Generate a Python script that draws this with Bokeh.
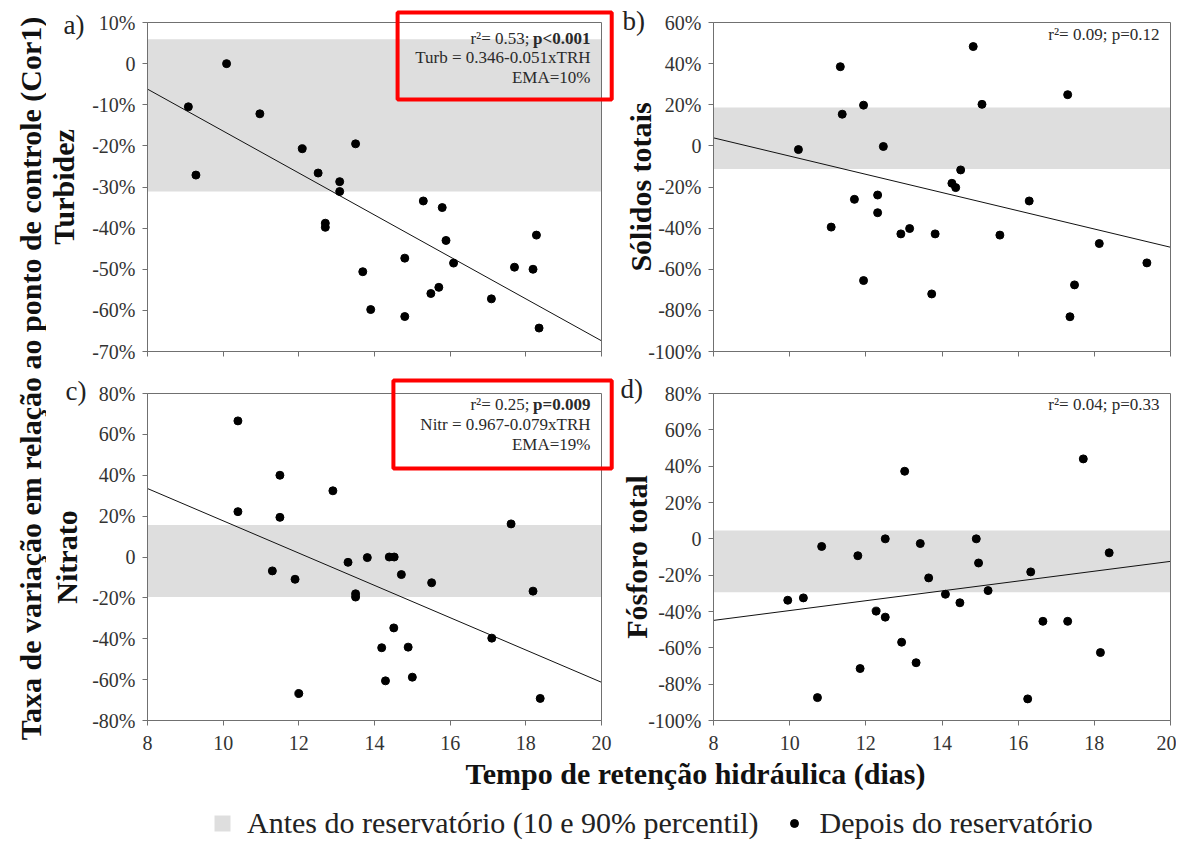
import math
from bokeh.plotting import figure
from bokeh.models import (Range1d, FixedTicker, PrintfTickFormatter, Label, BoxAnnotation,
                          Legend, LegendItem, LinearAxis)
from bokeh.layouts import row, column
from bokeh.embed import file_html
from bokeh.resources import INLINE

FONT = "Liberation Serif"
BAND = "#dedede"
TXT = "#2a2a2a"
AX = "#707070"

# ---------------- data (percent change vs control point) ----------------
x_ticks = [8, 10, 12, 14, 16, 18, 20]
x_lim = [8, 20]

# a) Turbidez
turb_x = [9.08, 9.28, 10.09, 10.97, 12.09, 12.51, 13.08, 13.08, 12.70, 12.70, 13.50, 13.69, 13.90,
          14.80, 14.80, 15.29, 15.49, 15.70, 15.79, 15.89, 16.09, 17.09, 17.70, 18.19, 18.28, 18.35]
turb_y = [-10.5, -27.1, 0.0, -12.2, -20.7, -26.6, -28.7, -31.1, -38.8, -39.8, -19.5, -50.6, -59.8,
          -47.3, -61.5, -33.4, -55.9, -54.4, -35.0, -43.0, -48.5, -57.2, -49.5, -50.0, -41.7, -64.3]
turb_band = [-31.1, 5.9]
turb_fit = [-6.2, -67.4]          # Turb = 0.346 - 0.051 x TRH
turb_yticks = [-70, -60, -50, -40, -30, -20, -10, 0, 10]

# b) Solidos totais
sol_x = [10.23, 11.09, 11.33, 11.38, 11.70, 11.94, 11.94, 12.31, 12.31, 12.46, 12.92, 13.15, 13.73,
         13.82, 14.26, 14.36, 14.49, 14.82, 15.05, 15.52, 16.29, 17.30, 17.36, 17.48, 18.13, 19.38]
sol_y = [-1.8, -39.5, 38.5, 15.4, -26.0, 19.8, -65.5, -23.9, -32.5, -0.3, -42.8, -40.2, -72.0,
         -42.8, -18.2, -20.3, -11.7, 48.3, 20.2, -43.4, -26.8, 24.9, -83.1, -67.6, -47.5, -56.9]
sol_band = [-11.2, 18.7]
sol_fit = [3.9, -49.3]
sol_yticks = [-100, -80, -60, -40, -20, 0, 20, 40, 60]

# c) Nitrato
nit_x = [10.39, 10.39, 11.30, 11.50, 11.50, 11.90, 12.00, 12.90, 13.30, 13.50, 13.50, 13.81, 14.19,
         14.29, 14.39, 14.52, 14.51, 14.71, 14.89, 15.00, 15.51, 17.10, 17.61, 18.19, 18.38]
nit_y = [66.6, 22.2, -6.8, 40.0, 19.4, -10.9, -66.8, 32.4, -2.6, -18.0, -19.6, -0.3, -44.4,
         -60.6, 0.0, 0.0, -34.7, -8.6, -44.1, -58.8, -12.6, -39.7, 16.2, -16.7, -69.2]
nit_band = [-19.6, 15.6]
nit_fit = [33.5, -61.3]           # Nitr = 0.967 - 0.079 x TRH
nit_yticks = [-80, -60, -40, -20, 0, 20, 40, 60, 80]

# d) Fosforo total
fos_x = [9.95, 10.36, 10.73, 10.84, 11.79, 11.85, 12.27, 12.51, 12.51, 12.94, 13.02, 13.32, 13.43,
         13.65, 14.09, 14.47, 14.90, 14.96, 15.21, 16.25, 16.33, 16.65, 17.30, 17.71, 18.16, 18.39]
fos_y = [-33.8, -32.5, -87.4, -4.2, -9.3, -71.4, -39.8, 0.0, -43.1, -56.9, 37.2, -68.2, -2.6,
         -21.5, -30.5, -35.2, 0.0, -13.3, -28.5, -88.1, -18.2, -45.4, -45.4, 44.0, -62.6, -7.7]
fos_band = [-29.4, 4.6]
fos_fit = [-44.9, -12.4]
fos_yticks = [-100, -80, -60, -40, -20, 0, 20, 40, 60, 80]

# ---------------- layout geometry (page pixels) ----------------
LEFT_W = 46
COL_X = [(46, 620), (620, 1176)]          # figure boxes
ROW_Y = [(0, 372), (372, 752)]
DATA_X = [(147, 601), (713, 1170)]        # plotting area boxes
DATA_Y = [(22, 351), (393, 720)]
BOTTOM_H = 88


def panel(xs, ys, band, fit, yticks, ylabel, letter, r, c, lab_standoff, letter_off, stats):
    fx0, fx1 = COL_X[c]
    fy0, fy1 = ROW_Y[r]
    dx0, dx1 = DATA_X[c]
    dy0, dy1 = DATA_Y[r]
    ymin, ymax = yticks[0], yticks[-1]
    sx = (dx1 - dx0) / (x_lim[1] - x_lim[0])
    sy = (dy1 - dy0) / (ymax - ymin)
    xr = Range1d(x_lim[0] - (dx0 - fx0) / sx, x_lim[1] + (fx1 - dx1) / sx)
    yr = Range1d(ymin - (fy1 - dy1) / sy, ymax + (dy0 - fy0) / sy)
    p = figure(width=fx1 - fx0, height=fy1 - fy0, x_range=xr, y_range=yr, min_border=0,
               x_axis_location=None, y_axis_location=None,
               output_backend="svg", toolbar_location=None)
    p.grid.visible = False
    p.outline_line_color = None
    p.background_fill_color = "white"
    p.border_fill_color = "white"

    p.quad(left=[x_lim[0]], right=[x_lim[1]], bottom=[band[0]], top=[band[1]],
           fill_color=BAND, line_color=None)
    p.line(x_lim, fit, line_color="#111111", line_width=1)
    p.scatter(xs, ys, size=8, color="black")
    p.add_layout(BoxAnnotation(left=x_lim[0], right=x_lim[1], bottom=ymin, top=ymax,
                               fill_color=None, line_color=AX, line_alpha=1, line_width=1))

    xa = LinearAxis(fixed_location=ymin, bounds=(x_lim[0], x_lim[1]),
                    ticker=FixedTicker(ticks=x_ticks))
    ya = LinearAxis(fixed_location=x_lim[0], bounds=(ymin, ymax),
                    ticker=FixedTicker(ticks=yticks),
                    formatter=PrintfTickFormatter(format="%d%%"))
    for ax in (xa, ya):
        ax.axis_line_color = AX
        ax.major_tick_line_color = AX
        ax.minor_tick_line_color = None
        ax.major_tick_in = 0
        ax.major_tick_out = 5
        ax.major_label_text_font = FONT
        ax.major_label_text_font_size = "20px"
        ax.major_label_text_color = "#333333"
    xa.major_label_standoff = 10
    ya.major_label_standoff = 7
    if r == 0:
        xa.major_label_overrides = {t: "" for t in x_ticks}
    ya.major_label_overrides = {0: "0"}
    ya.axis_label = ylabel
    ya.axis_label_text_font = FONT
    ya.axis_label_text_font_style = "bold"
    ya.axis_label_text_font_size = "30px"
    ya.axis_label_text_color = "#111111"
    ya.axis_label_standoff = lab_standoff
    p.add_layout(xa, "below")
    p.add_layout(ya, "left")

    p.add_layout(Label(x=x_lim[0], y=ymax, x_offset=letter_off[0], y_offset=letter_off[1],
                       text=letter, text_font=FONT, text_font_size="27px",
                       text_color="#222222", text_align="left", text_baseline="middle"))
    for txt, dy, bold, dx in stats:
        p.add_layout(Label(x=x_lim[1], y=ymax, x_offset=dx, y_offset=dy, text=txt,
                           text_font=FONT, text_font_size="17px",
                           text_font_style="bold" if bold else "normal",
                           text_color=TXT, text_align="right", text_baseline="middle"))
    return p


pa = panel(turb_x, turb_y, turb_band, turb_fit, turb_yticks, "Turbidez", "a)", 0, 0, 9,
           (-84, -2),
           [("r\u00b2= 0.53;", -16, False, -72), ("p<0.001", -16, True, -11),
            ("Turb = 0.346-0.051xTRH", -35, False, -11), ("EMA=10%", -55, False, -11)])
pb = panel(sol_x, sol_y, sol_band, sol_fit, sol_yticks, "Sólidos totais", "b)", 0, 1, -12,
           (-91, 2),
           [("r\u00b2= 0.09; p=0.12", -12, False, -11)])
pc = panel(nit_x, nit_y, nit_band, nit_fit, nit_yticks, "Nitrato", "c)", 1, 0, 6,
           (-82, 3),
           [("r\u00b2= 0.25;", -11, False, -72), ("p=0.009", -11, True, -11),
            ("Nitr = 0.967-0.079xTRH", -31, False, -11), ("EMA=19%", -51, False, -11)])
pd_ = panel(fos_x, fos_y, fos_band, fos_fit, fos_yticks, "Fósforo total", "d)", 1, 1, -8,
            (-93, 5),
            [("r\u00b2= 0.04; p=0.33", -11, False, -11)])

# red highlight boxes around the regression statistics
pa.add_layout(BoxAnnotation(left=14.61, right=20.27, top=12.43, bottom=-8.72,
                            fill_color=None, line_color="#ff0000", line_alpha=1, line_width=4))
pc.add_layout(BoxAnnotation(left=14.50, right=20.27, top=86.4, bottom=43.3,
                            fill_color=None, line_color="#ff0000", line_alpha=1, line_width=4))

TOTAL_H = ROW_Y[1][1] + BOTTOM_H

# shared y label
left = figure(width=LEFT_W, height=TOTAL_H, x_range=Range1d(0, LEFT_W),
              y_range=Range1d(TOTAL_H, 0), x_axis_type=None, y_axis_type=None, min_border=0,
              output_backend="svg", toolbar_location=None)
left.grid.visible = False
left.outline_line_color = None
left.add_layout(Label(x=30, y=378, angle=math.pi / 2,
                      text="Taxa de variação em relação ao ponto de controle (Cor1)",
                      text_font=FONT, text_font_style="bold", text_font_size="30px",
                      text_color="#111111", text_align="center", text_baseline="middle"))

# shared x label + legend
bx0, bx1 = COL_X[0][0], COL_X[1][1]
by0, by1 = ROW_Y[1][1], TOTAL_H
bottom = figure(width=bx1 - bx0, height=by1 - by0, x_range=Range1d(bx0, bx1),
                y_range=Range1d(by1, by0), x_axis_type=None, y_axis_type=None, min_border=0,
                output_backend="svg", toolbar_location=None)
bottom.grid.visible = False
bottom.outline_line_color = None
bottom.add_layout(Label(x=695, y=773, text="Tempo de retenção hidráulica (dias)",
                        text_font=FONT, text_font_style="bold", text_font_size="30px",
                        text_color="#111111", text_align="center", text_baseline="middle"))
# legend proxies (their data lie outside this strip's ranges, so only the legend shows them)
r_band = bottom.quad(left=[x_lim[0]], right=[x_lim[1]], bottom=[turb_band[0]], top=[turb_band[1]],
                     fill_color=BAND, line_color=None)
r_pts = bottom.scatter(x=turb_x, y=turb_y, size=8, color="black")
legend = Legend(items=[LegendItem(label="Antes do reservatório (10 e 90% percentil)", renderers=[r_band]),
                       LegendItem(label="Depois do reservatório", renderers=[r_pts])],
                orientation="horizontal", location=(212 - bx0, 0), padding=0, margin=0,
                spacing=26, label_standoff=15, glyph_width=20, glyph_height=20,
                border_line_color=None, background_fill_alpha=0,
                label_text_font=FONT, label_text_font_size="30px", label_text_color="#222222")
bottom.add_layout(legend)

layout = row(left, column(row(pa, pb), row(pc, pd_), bottom))

open("out.html", "w").write(file_html(layout, INLINE))
